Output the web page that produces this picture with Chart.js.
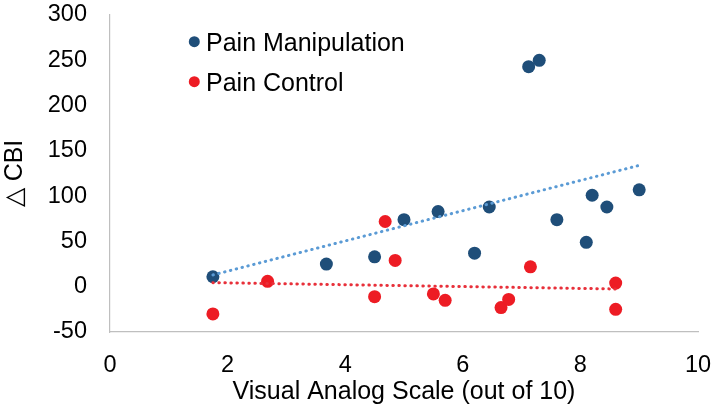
<!DOCTYPE html>
<html>
<head>
<meta charset="utf-8">
<script src="https://cdn.jsdelivr.net/npm/chart.js@4/dist/chart.umd.min.js"></script>
<style>
  html, body { margin: 0; padding: 0; background: #ffffff; }
  #wrap { width: 714px; height: 408px; position: relative; }
</style>
</head>
<body>
<div id="wrap"><canvas id="c" width="714" height="408"></canvas></div>
<script>
// ---- data ----
const seriesNames = ["Pain Manipulation", "Pain Control"];

const manipX = [1.75, 3.68, 4.5, 5.0, 5.58, 6.2, 6.45, 7.12, 7.3, 7.6, 8.1, 8.2, 8.45, 9.0];
const manipY = [11, 25, 33, 74, 83, 37, 88, 243, 250, 74, 49, 101, 88, 107];

const ctrlX = [1.75, 2.68, 4.5, 4.68, 4.85, 5.5, 5.7, 6.65, 6.78, 7.15, 8.6, 8.6];
const ctrlY = [-30, 6, -11, 72, 29, -8, -15, -23, -14, 22, 4, -25];

// trendline end points
const manipTrendX = [1.75, 9.0];
const manipTrendY = [13, 134];
const ctrlTrendX = [1.75, 8.6];
const ctrlTrendY = [4.5, -2.5];

const xTicks = [0, 2, 4, 6, 8, 10];
const yTicks = [-50, 0, 50, 100, 150, 200, 250, 300];

const xTitle = "Visual Analog Scale (out of 10)";
const yTitle = "\u25B3 CBI";

const blue = "#1F4E79";
const red = "#ED1C24";
const blueTrend = "#5B9BD5";
const redTrend = "#E8303A";
const FONT = "'Liberation Sans', Arial, sans-serif";

const toPts = (xs, ys) => xs.map((x, i) => ({ x: x, y: ys[i] }));

const legendPlugin = {
  id: "customLegend",
  afterDraw(chart) {
    const ctx = chart.ctx;
    const items = [
      { label: seriesNames[0], color: blue },
      { label: seriesNames[1], color: red }
    ];
    ctx.save();
    ctx.font = "25px " + FONT;
    ctx.textBaseline = "alphabetic";
    ctx.textAlign = "left";
    items.forEach((it, i) => {
      const cy = 41.7 + i * 40;
      ctx.beginPath();
      ctx.fillStyle = it.color;
      ctx.arc(194.3, cy, 5.5, 0, Math.PI * 2);
      ctx.fill();
      ctx.fillStyle = "#000000";
      ctx.fillText(it.label, 206, cy + 8.8);
    });
    ctx.restore();
  }
};

const trendStyle = {
  type: "line",
  borderWidth: 3,
  borderDash: [0.5, 5.5],
  borderCapStyle: "round",
  pointRadius: 0,
  fill: false,
  order: 0
};

new Chart(document.getElementById("c"), {
  type: "scatter",
  data: {
    datasets: [
      Object.assign({}, trendStyle, {
        label: seriesNames[0] + " trend",
        data: toPts(manipTrendX, manipTrendY),
        borderColor: blueTrend
      }),
      Object.assign({}, trendStyle, {
        label: seriesNames[1] + " trend",
        data: toPts(ctrlTrendX, ctrlTrendY),
        borderColor: redTrend
      }),
      {
        label: seriesNames[0],
        data: toPts(manipX, manipY),
        backgroundColor: blue,
        borderColor: blue,
        pointRadius: 6.5,
        borderWidth: 0,
        order: 1
      },
      {
        label: seriesNames[1],
        data: toPts(ctrlX, ctrlY),
        backgroundColor: red,
        borderColor: red,
        pointRadius: 6.5,
        borderWidth: 0,
        order: 1
      }
    ]
  },
  options: {
    responsive: false,
    animation: false,
    devicePixelRatio: 1,
    layout: { padding: 0, autoPadding: false },
    plugins: {
      legend: { display: false },
      tooltip: { enabled: false }
    },
    scales: {
      x: {
        type: "linear",
        min: 0,
        max: 10,
        afterBuildTicks(s) { s.ticks = xTicks.map(v => ({ value: v })); },
        afterFit(s) { s.height = 76; s.paddingRight = 16; s.paddingLeft = 0; },
        grid: { display: false, drawTicks: false },
        border: { display: true, color: "#BFBFBF", width: 1.2 },
        ticks: {
          color: "#000000",
          font: { family: FONT, size: 23.5 },
          padding: 19,
          maxRotation: 0
        },
        title: {
          display: true,
          text: xTitle,
          color: "#000000",
          font: { family: FONT, size: 25, lineHeight: 1.2 },
          padding: { top: 0, bottom: 1 }
        }
      },
      y: {
        type: "linear",
        min: -50,
        max: 300,
        afterBuildTicks(s) { s.ticks = yTicks.map(v => ({ value: v })); },
        afterFit(s) { s.width = 110; s.paddingTop = 15; s.paddingBottom = 0; },
        grid: { display: false, drawTicks: false },
        border: { display: true, color: "#BFBFBF", width: 1.2 },
        ticks: {
          color: "#000000",
          font: { family: FONT, size: 23.5 },
          padding: 23
        },
        title: {
          display: true,
          text: yTitle,
          color: "#000000",
          font: { family: FONT, size: 25, lineHeight: 1.2 },
          padding: { top: 0, bottom: 0 }
        }
      }
    }
  },
  plugins: [legendPlugin]
});
</script>
</body>
</html>
